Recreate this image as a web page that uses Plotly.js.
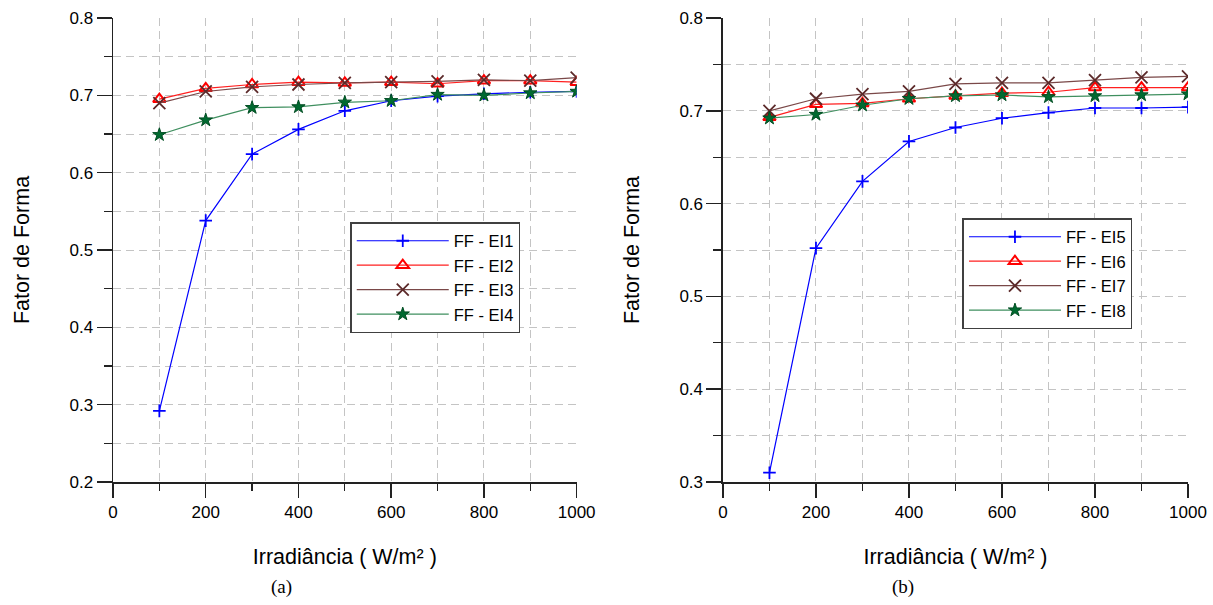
<!DOCTYPE html>
<html>
<head>
<meta charset="utf-8">
<script src="https://cdn.plot.ly/plotly-3.0.1.min.js"></script>
<style>html,body{margin:0;padding:0;background:#fff;}#chart{width:1213px;height:605px;}</style>
</head>
<body>
<div id="chart"></div>
<script>
// Irradiance (W/m²)
const irradiance = [100, 200, 300, 400, 500, 600, 700, 800, 900, 1000];

// Panel (a)
const ffEI1 = [0.292, 0.538, 0.624, 0.656, 0.680, 0.693, 0.699, 0.702, 0.704, 0.705];
const ffEI2 = [0.695, 0.709, 0.714, 0.717, 0.716, 0.717, 0.715, 0.719, 0.719, 0.717];
const ffEI3 = [0.690, 0.705, 0.711, 0.714, 0.716, 0.717, 0.718, 0.720, 0.719, 0.723];
const ffEI4 = [0.649, 0.668, 0.684, 0.685, 0.691, 0.693, 0.701, 0.700, 0.703, 0.705];

// Panel (b)
const ffEI5 = [0.310, 0.552, 0.624, 0.667, 0.682, 0.692, 0.698, 0.703, 0.703, 0.704];
const ffEI6 = [0.693, 0.707, 0.708, 0.713, 0.716, 0.719, 0.720, 0.725, 0.725, 0.725];
const ffEI7 = [0.700, 0.713, 0.718, 0.721, 0.729, 0.730, 0.730, 0.733, 0.736, 0.737];
const ffEI8 = [0.692, 0.696, 0.706, 0.713, 0.716, 0.717, 0.715, 0.716, 0.717, 0.718];

const namesA = ['FF - EI1', 'FF - EI2', 'FF - EI3', 'FF - EI4'];
const namesB = ['FF - EI5', 'FF - EI6', 'FF - EI7', 'FF - EI8'];
const xTitle = 'Irradiância ( W/m² )';
const yTitle = 'Fator de Forma';
const panelLabels = ['(a)', '(b)'];

const styles = [
  {line: {color: '#0000ff', width: 1.2}, marker: {symbol: 'cross-thin', size: 9, color: '#0000ff', line: {color: '#0000ff', width: 1.8}}},
  {line: {color: '#ff2020', width: 1.2}, marker: {symbol: 'triangle-up-open', size: 11, color: '#ff0000', line: {color: '#ff0000', width: 2}}},
  {line: {color: '#7a4848', width: 1.2}, marker: {symbol: 'x-thin', size: 12, color: '#5c2a2a', line: {color: '#5c2a2a', width: 1.8}}},
  {line: {color: '#3f8f5f', width: 1.2}, marker: {symbol: 'star', size: 10, color: '#006a30', line: {color: '#004d22', width: 1}}}
];

const seriesA = [ffEI1, ffEI2, ffEI3, ffEI4];
const seriesB = [ffEI5, ffEI6, ffEI7, ffEI8];

const traces = [];
seriesA.forEach((ys, i) => traces.push(Object.assign({
  type: 'scatter', mode: 'lines+markers', x: irradiance, y: ys, name: namesA[i],
  xaxis: 'x', yaxis: 'y', legend: 'legend'
}, JSON.parse(JSON.stringify(styles[i])))));
seriesB.forEach((ys, i) => traces.push(Object.assign({
  type: 'scatter', mode: 'lines+markers', x: irradiance, y: ys, name: namesB[i],
  xaxis: 'x2', yaxis: 'y2', legend: 'legend2'
}, JSON.parse(JSON.stringify(styles[i])))));

const fontFam = 'Arial, "Liberation Sans", sans-serif';
const gridCol = '#c4c4c4';
const dash = '8px,5px';

function xAxis(domain, anchor) {
  return {
    domain: domain, anchor: anchor, range: [0, 1000], dtick: 200, tick0: 0,
    ticks: 'outside', ticklen: 14, tickwidth: 1.5, tickcolor: '#222',
    showline: true, linecolor: '#222', linewidth: 1.5, zeroline: false,
    showgrid: true, gridcolor: gridCol, griddash: dash, gridwidth: 1,
    minor: {dtick: 100, tick0: 0, ticks: 'outside', ticklen: 7, tickwidth: 1.2, tickcolor: '#222',
            showgrid: true, gridcolor: gridCol, griddash: dash, gridwidth: 1},
    tickfont: {family: fontFam, size: 17, color: '#000'},
    title: {text: xTitle, font: {family: fontFam, size: 21.5, color: '#000'}, standoff: 28},
    automargin: false, fixedrange: true
  };
}
function yAxis(range, anchor) {
  return {
    domain: [0, 1], anchor: anchor, range: range, dtick: 0.1, tick0: 0,
    ticks: 'outside', ticklen: 15, tickwidth: 1.5, tickcolor: '#222',
    showline: true, linecolor: '#222', linewidth: 1.5, zeroline: false,
    showgrid: true, gridcolor: gridCol, griddash: dash, gridwidth: 1,
    minor: {dtick: 0.05, tick0: 0, ticks: 'outside', ticklen: 8, tickwidth: 1.2, tickcolor: '#222',
            showgrid: true, gridcolor: gridCol, griddash: dash, gridwidth: 1},
    tickformat: '.1f',
    tickfont: {family: fontFam, size: 17, color: '#000'},
    title: {text: yTitle, font: {family: fontFam, size: 21.5, color: '#000'}, standoff: 34},
    automargin: false, fixedrange: true
  };
}

const legendBase = {
  xanchor: 'left', yanchor: 'top', bgcolor: '#ffffff', bordercolor: '#404040', borderwidth: 1.5,
  font: {family: fontFam, size: 16.5, color: '#000'}, itemwidth: 92, tracegroupgap: 0,
  itemclick: false, itemdoubleclick: false
};

const layout = {
  width: 1213, height: 605,
  margin: {l: 113, r: 25, t: 18, b: 123},
  paper_bgcolor: '#ffffff', plot_bgcolor: '#ffffff',
  showlegend: true,
  xaxis: xAxis([0, 0.4313], 'y'),
  yaxis: yAxis([0.2, 0.8], 'x'),
  xaxis2: xAxis([0.5674, 1.0], 'y2'),
  yaxis2: yAxis([0.3, 0.8], 'x2'),
  legend: Object.assign({x: 0.2207, y: 0.5603}, legendBase),
  legend2: Object.assign({x: 0.7902, y: 0.5689}, legendBase),
  annotations: [
    {text: panelLabels[0], xref: 'paper', yref: 'paper', x: 0.1572, y: -0.2263, xanchor: 'center', yanchor: 'middle',
     showarrow: false, font: {family: '"Times New Roman", "Liberation Serif", serif', size: 19, color: '#000'}},
    {text: panelLabels[1], xref: 'paper', yref: 'paper', x: 0.7349, y: -0.2263, xanchor: 'center', yanchor: 'middle',
     showarrow: false, font: {family: '"Times New Roman", "Liberation Serif", serif', size: 19, color: '#000'}}
  ]
};

Plotly.newPlot('chart', traces, layout, {displayModeBar: false, staticPlot: true});
</script>
</body>
</html>
